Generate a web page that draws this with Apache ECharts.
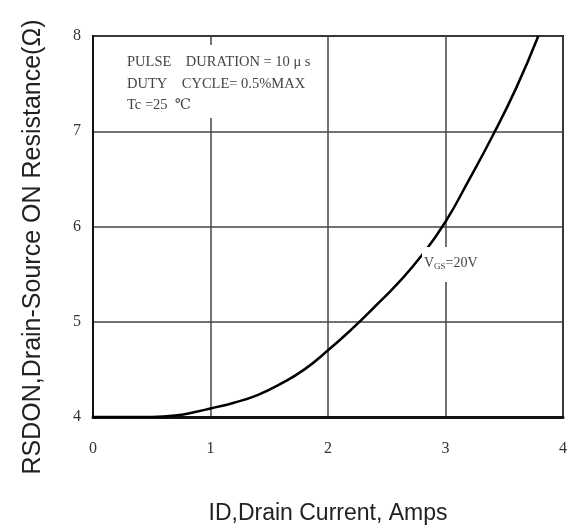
<!DOCTYPE html>
<html>
<head>
<meta charset="utf-8">
<script src="https://cdn.jsdelivr.net/npm/echarts@6/dist/echarts.min.js"></script>
<style>html,body{margin:0;padding:0;background:#fff}#c{width:572px;height:526px}</style>
</head>
<body>
<div id="c"></div>
<script>
var currentA = [0, 0.5, 0.7, 0.9, 1.0, 1.2, 1.4, 1.6, 1.8, 2.0, 2.2, 2.4, 2.6, 2.8, 3.0, 3.2, 3.4, 3.6, 3.79];
var rdsOn =    [4.0, 4.0, 4.015, 4.06, 4.09, 4.15, 4.23, 4.35, 4.50, 4.70, 4.92, 5.16, 5.41, 5.70, 6.05, 6.49, 6.95, 7.45, 8.0];
var xTicks = [0, 1, 2, 3, 4];
var yTicks = [4, 5, 6, 7, 8];
var xTitle = 'ID,Drain Current, Amps';
var yTitle = 'RSDON,Drain-Source ON Resistance(Ω)';
var noteLines = ['PULSE    DURATION = 10 μ s', 'DUTY    CYCLE= 0.5%MAX', 'Tc =25  ℃'];

var chart = echarts.init(document.getElementById('c'), null, {renderer: 'canvas'});
var pts = currentA.map(function (x, i) { return [x, rdsOn[i]]; });
var serif = '"Liberation Serif", "DejaVu Serif", serif';
var sans = '"Liberation Sans", Arial, sans-serif';

chart.setOption({
  animation: false,
  backgroundColor: '#fff',
  grid: {left: 93, right: 9, top: 36, bottom: 109, show: true, borderColor: '#111', borderWidth: 2,
         backgroundColor: 'transparent', containLabel: false, outerBoundsMode: 'none'},
  xAxis: {
    type: 'value', min: xTicks[0], max: xTicks[xTicks.length - 1], interval: 1,
    axisLine: {show: true, lineStyle: {color: '#111', width: 3}},
    axisTick: {show: false},
    axisLabel: {color: '#333', fontFamily: serif, fontSize: 16, margin: 24},
    splitLine: {show: true, lineStyle: {color: '#444', width: 1.5}},
    name: xTitle, nameLocation: 'middle', nameGap: 85,
    nameTextStyle: {fontFamily: sans, fontSize: 23, color: '#222'}
  },
  yAxis: {
    type: 'value', min: yTicks[0], max: yTicks[yTicks.length - 1], interval: 1,
    axisLine: {show: true, lineStyle: {color: '#111', width: 2}},
    axisTick: {show: false},
    axisLabel: {color: '#333', fontFamily: serif, fontSize: 16, margin: 12},
    splitLine: {show: true, lineStyle: {color: '#444', width: 1.5}}
  },
  series: [{
    type: 'line', data: pts, smooth: 0.5, showSymbol: false,
    lineStyle: {color: '#000', width: 2.5}
  }],
  graphic: [
    {type: 'text', x: 33, y: 247, rotation: Math.PI / 2, z: 60, style: {
      text: yTitle, font: '25px ' + sans, fill: '#222', align: 'center', verticalAlign: 'middle'}},
    {type: 'rect', shape: {x: 116, y: 45, width: 204, height: 73}, style: {fill: '#fff'}, z: 50},
    {type: 'text', left: 127, top: 55, z: 60, style: {text: noteLines[0], font: '14.5px ' + serif, fill: '#444'}},
    {type: 'text', left: 127, top: 77, z: 60, style: {text: noteLines[1], font: '14.5px ' + serif, fill: '#444'}},
    {type: 'text', left: 127, top: 98, z: 60, style: {text: noteLines[2], font: '14.5px ' + serif, fill: '#444'}},
    {type: 'text', left: 422, top: 247, z: 60, style: {
      text: 'V{s|GS}=20V', font: '14px ' + serif, fill: '#444',
      backgroundColor: '#fff', padding: [9, 2, 11, 2],
      rich: {s: {fontSize: 9, fontFamily: serif, fill: '#444', verticalAlign: 'bottom', padding: [6, 0, 0, 0]}}
    }}
  ]
});
</script>
</body>
</html>
